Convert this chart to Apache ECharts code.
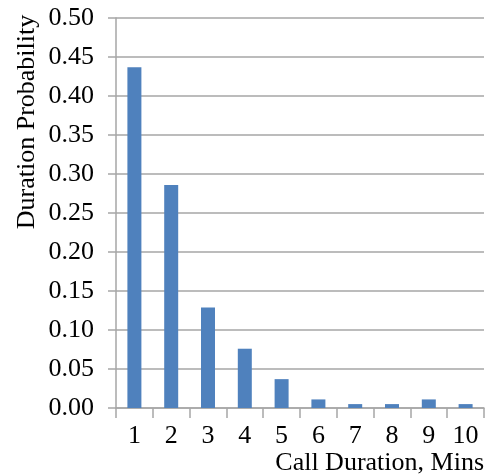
<!DOCTYPE html>
<html>
<head>
<meta charset="utf-8">
<script src="https://cdn.jsdelivr.net/npm/echarts@6/dist/echarts.min.js"></script>
<style>html,body{margin:0;padding:0;background:#fff}#c{width:491px;height:476px}</style>
</head>
<body>
<div id="c"></div>
<script>
const categories = ['1','2','3','4','5','6','7','8','9','10'];
const probabilities = [0.437, 0.286, 0.129, 0.076, 0.037, 0.011, 0.005, 0.005, 0.011, 0.005];
const yTicks = [0, 0.05, 0.10, 0.15, 0.20, 0.25, 0.30, 0.35, 0.40, 0.45, 0.50];
const xTitle = 'Call Duration, Mins';
const yTitle = 'Duration Probability';

const font = 'Liberation Serif';
const chart = echarts.init(document.getElementById('c'));
chart.setOption({
  animation: false,
  grid: {left: 116, right: 7, top: 18, bottom: 68, containLabel: false},
  xAxis: {
    type: 'category',
    data: categories,
    boundaryGap: true,
    axisLine: {show: true, lineStyle: {color: '#a6a6a6', width: 1.5}},
    axisTick: {show: true, length: 10, lineStyle: {color: '#a6a6a6', width: 1.5}},
    axisLabel: {color: '#000', fontFamily: font, fontSize: 26, margin: 15},
    name: xTitle,
    nameLocation: 'end',
    nameGap: 0,
    nameTextStyle: {color: '#000', fontFamily: font, fontSize: 26, align: 'right', verticalAlign: 'top', padding: [42, 0, 0, 0]}
  },
  yAxis: {
    type: 'value',
    min: yTicks[0],
    max: yTicks[yTicks.length - 1],
    interval: 0.05,
    axisLine: {show: true, lineStyle: {color: '#a6a6a6', width: 1.5}},
    axisTick: {show: true, length: 8, lineStyle: {color: '#a6a6a6', width: 1.5}},
    splitLine: {show: true, lineStyle: {color: '#a6a6a6', width: 1.5}},
    axisLabel: {color: '#000', fontFamily: font, fontSize: 26, margin: 22, formatter: v => v.toFixed(2)}
  },
  graphic: [{
    type: 'text',
    x: 27, y: 122,
    rotation: Math.PI / 2,
    style: {text: yTitle, fontFamily: font, fontSize: 26, fill: '#000', align: 'center', verticalAlign: 'middle'}
  }],
  series: [{
    type: 'bar',
    data: probabilities,
    barWidth: 14,
    itemStyle: {color: '#4f81bd'}
  }]
});
</script>
</body>
</html>
